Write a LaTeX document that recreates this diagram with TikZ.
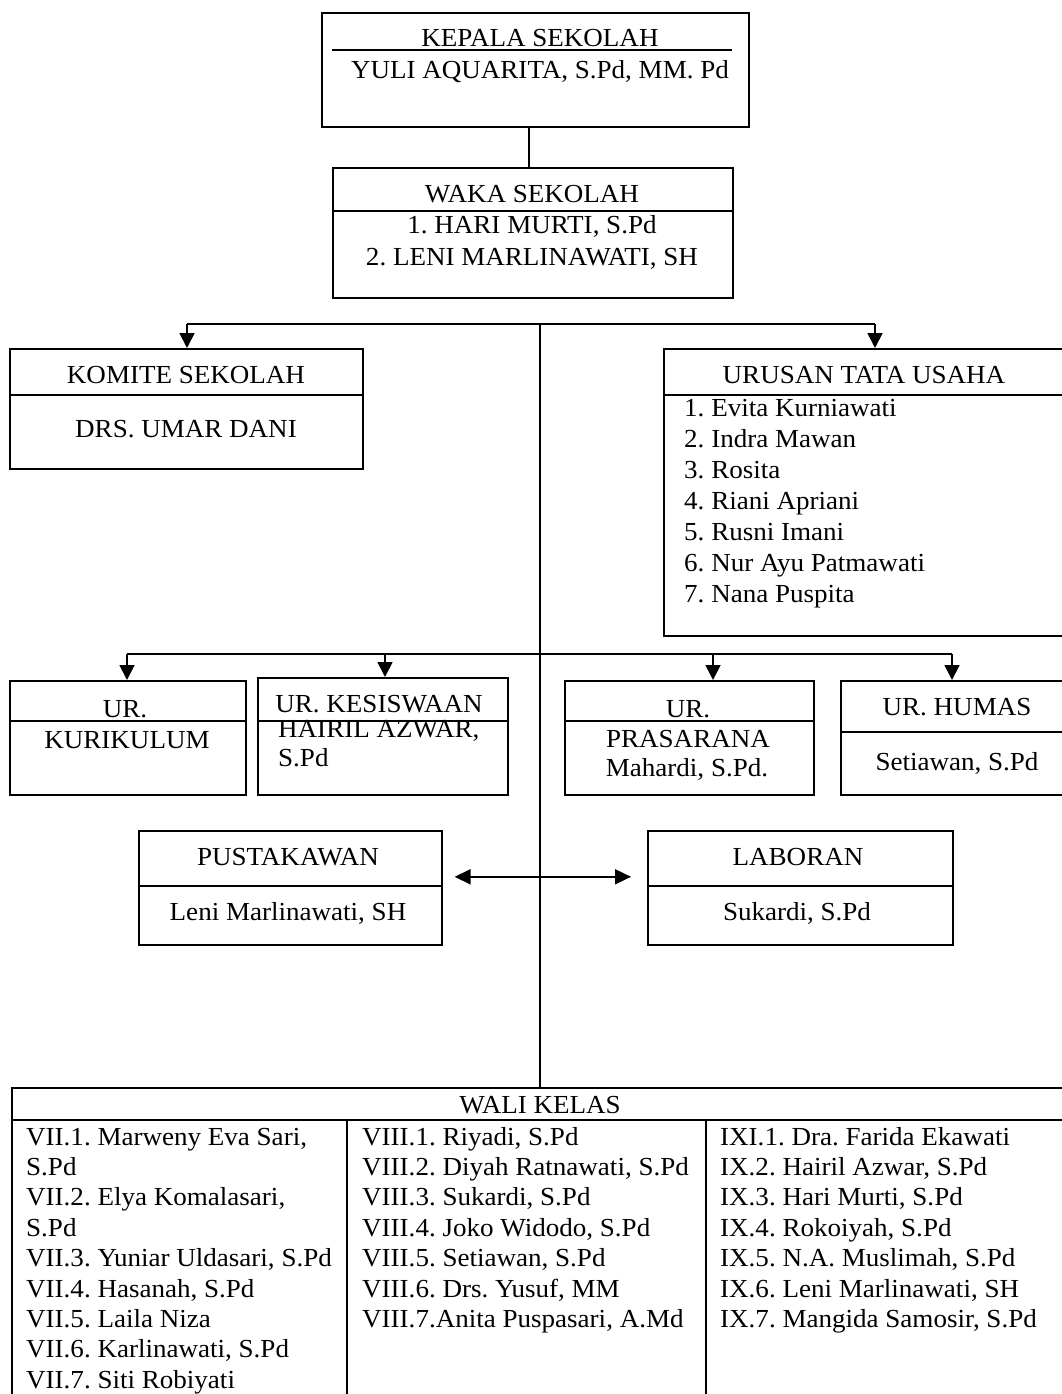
\documentclass[tikz,border=0pt]{standalone}
\usepackage{fontspec}
\setmainfont{Liberation Serif}[FakeStretch=1.04]
\usetikzlibrary{arrows.meta}
\newcommand\tf{\fontsize{26}{31}\selectfont\frenchspacing}
\begin{document}
\begin{tikzpicture}[x=1pt,y=-1pt,
  box/.style={draw, line width=1.6pt, inner sep=0pt, anchor=north west},
  divline/.style={line width=1.6pt},
  busline/.style={line width=1.8pt},
  mainline/.style={line width=1.2pt},
  arr/.style={line width=1.8pt, -{Triangle[length=15pt,width=15pt]}},
  dblarr/.style={line width=1.8pt, {Triangle[length=16pt,width=15pt]}-{Triangle[length=16pt,width=15pt]}},
  lbl/.style={font=\tf, inner sep=0pt, anchor=base},
  lbll/.style={font=\tf, inner sep=0pt, anchor=base west}]
\useasboundingbox (0,0) rectangle (1062,1394);

% ---- boxes
\node[box, minimum width=427pt, minimum height=114pt] (kepala) at (321,12) {};
\node[box, minimum width=400pt, minimum height=130pt] (waka) at (332,167) {};
\node[box, minimum width=353pt, minimum height=120pt] (komite) at (9,348) {};
\node[box, minimum width=406pt, minimum height=287pt] (tu) at (663,348) {};
\node[box, minimum width=236pt, minimum height=114pt] (kur) at (9,680) {};
\node[box, minimum width=250pt, minimum height=117pt] (kes) at (257,677) {};
\node[box, minimum width=249pt, minimum height=114pt] (pras) at (564,680) {};
\node[box, minimum width=229pt, minimum height=114pt] (humas) at (840,680) {};
\node[box, minimum width=303pt, minimum height=114pt] (pust) at (138,830) {};
\node[box, minimum width=305pt, minimum height=114pt] (lab) at (647,830) {};
\node[box, minimum width=1060pt, minimum height=330pt] (wali) at (11,1087) {};

% ---- dividers
\draw[line width=1.4pt] (332,50) -- (732,50);
\draw[divline] (waka.west |- 0,211) -- (waka.east |- 0,211);
\draw[divline] (komite.west |- 0,395) -- (komite.east |- 0,395);
\draw[divline] (tu.west |- 0,395) -- (tu.east |- 0,395);
\draw[divline] (kur.west |- 0,721) -- (kur.east |- 0,721);
\draw[divline] (kes.west |- 0,721) -- (kes.east |- 0,721);
\draw[divline] (pras.west |- 0,721) -- (pras.east |- 0,721);
\draw[divline] (humas.west |- 0,732) -- (humas.east |- 0,732);
\draw[divline] (pust.west |- 0,886) -- (pust.east |- 0,886);
\draw[divline] (lab.west |- 0,886) -- (lab.east |- 0,886);
\draw[divline] (wali.west |- 0,1120) -- (wali.east |- 0,1120);
\draw[divline] (347,1120) -- (wali.south -| 347,0);
\draw[divline] (706,1120) -- (wali.south -| 706,0);

% ---- connectors
\draw[mainline, line width=1.6pt] (kepala.south -| 529,0) -- (waka.north -| 529,0);
\coordinate (busL) at (187,324);
\coordinate (busR) at (875,324);
\coordinate (busC) at (540,324);
\draw[busline] (busL) -- (busR);
\draw[arr] (busL) -- (komite.north -| busL);
\draw[arr] (busR) -- (tu.north -| busR);
\draw[mainline] (busC) -- (wali.north -| busC);

\coordinate (bus2a) at (127,654);
\coordinate (bus2b) at (385,654);
\coordinate (bus2c) at (713,654);
\coordinate (bus2d) at (952,654);
\draw[busline] (bus2a) -- (bus2d);
\draw[arr] (bus2a) -- (kur.north -| bus2a);
\draw[arr] (bus2b) -- (kes.north -| bus2b);
\draw[arr] (bus2c) -- (pras.north -| bus2c);
\draw[arr] (bus2d) -- (humas.north -| bus2d);

\draw[dblarr] ([shift={(12,-11)}]pust.east) -- ([shift={(-16,-11)}]lab.west);

% ---- texts
\node[lbl] (t1) at (540,47) {KEPALA SEKOLAH};
\node[lbl] (t2) at (540,79) {YULI AQUARITA, S.Pd, MM. Pd};
\node[lbl] (t3) at (532,202) {WAKA SEKOLAH};
\node[lbl] (t4) at (532,233) {1. HARI MURTI, S.Pd};
\node[lbl] (t5) at (532,265) {2. LENI MARLINAWATI, SH};
\node[lbl] (t6) at (186,383) {KOMITE SEKOLAH};
\node[lbl] (t7) at (186,437) {DRS. UMAR DANI};
\node[lbl] (t8) at (864,383) {URUSAN TATA USAHA};
\node[lbll] (u1) at (684,416) {1. Evita Kurniawati};
\node[lbll] (u2) at (684,447) {2. Indra Mawan};
\node[lbll] (u3) at (684,478) {3. Rosita};
\node[lbll] (u4) at (684,509) {4. Riani Apriani};
\node[lbll] (u5) at (684,540) {5. Rusni Imani};
\node[lbll] (u6) at (684,571) {6. Nur Ayu Patmawati};
\node[lbll] (u7) at (684,602) {7. Nana Puspita};

\node[lbl] (k1) at (125,717) {UR.};
\node[lbl] (k2) at (127,748) {KURIKULUM};
\node[lbl] (s1) at (379,712) {UR. KESISWAAN};
\node[lbll] (s2) at (278,737) {HAIRIL AZWAR,};
\node[lbll] (s3) at (278,766) {S.Pd};
\node[lbl] (p1) at (688,717) {UR.};
\node[lbl] (p2) at (688,747) {PRASARANA};
\node[lbl] (p3) at (687,776) {Mahardi, S.Pd.};
\node[lbl] (h1) at (957,715) {UR. HUMAS};
\node[lbl] (h2) at (957,770) {Setiawan, S.Pd};

\node[lbl] (l1) at (288,865) {PUSTAKAWAN};
\node[lbl] (l2) at (288,920) {Leni Marlinawati, SH};
\node[lbl] (l3) at (798,865) {LABORAN};
\node[lbl] (l4) at (797,920) {Sukardi, S.Pd};

\node[lbl] (w0) at (540,1113) {WALI KELAS};
\foreach \t [count=\i from 0] in {{VII.1. Marweny Eva Sari,},{S.Pd},{VII.2. Elya Komalasari,},{S.Pd},{VII.3. Yuniar Uldasari, S.Pd},{VII.4. Hasanah, S.Pd},{VII.5. Laila Niza},{VII.6. Karlinawati, S.Pd},{VII.7. Siti Robiyati}}
  \node[lbll] (ca\i) at (26,1145+30.4*\i) {\t};
\foreach \t [count=\i from 0] in {{VIII.1. Riyadi, S.Pd},{VIII.2. Diyah Ratnawati, S.Pd},{VIII.3. Sukardi, S.Pd},{VIII.4. Joko Widodo, S.Pd},{VIII.5. Setiawan, S.Pd},{VIII.6. Drs. Yusuf, MM},{VIII.7.Anita Puspasari, A.Md}}
  \node[lbll] (cb\i) at (362,1145+30.4*\i) {\t};
\foreach \t [count=\i from 0] in {{IXI.1. Dra. Farida Ekawati},{IX.2. Hairil Azwar, S.Pd},{IX.3. Hari Murti, S.Pd},{IX.4. Rokoiyah, S.Pd},{IX.5. N.A. Muslimah, S.Pd},{IX.6. Leni Marlinawati, SH},{IX.7. Mangida Samosir, S.Pd}}
  \node[lbll] (cc\i) at (720,1145+30.4*\i) {\t};
\end{tikzpicture}
\end{document}
